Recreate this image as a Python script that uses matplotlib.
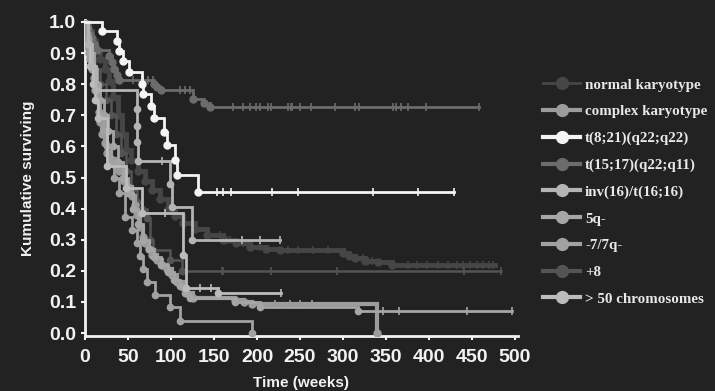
import matplotlib
matplotlib.use('Agg')
import matplotlib.pyplot as plt
from matplotlib.lines import Line2D
from matplotlib.font_manager import FontProperties

# ---------------- data ----------------
labels = ['normal karyotype', 'complex karyotype', 't(8;21)(q22;q22)',
          't(15;17)(q22;q11)', 'inv(16)/t(16;16)', '5q-', '-7/7q-', '+8',
          '> 50 chromosomes']

# normal karyotype
nk_t = [4, 8, 13, 18, 23, 28, 33, 38, 43, 48, 54, 62, 70, 78, 87, 96, 105, 114,
        128, 142, 160, 176, 192, 210, 227, 300, 307, 314, 325, 341, 357]
nk_s = [0.97, 0.94, 0.91, 0.88, 0.85, 0.81, 0.76, 0.70, 0.64, 0.59, 0.555, 0.52,
        0.49, 0.46, 0.43, 0.40, 0.375, 0.354, 0.335, 0.315, 0.30, 0.288, 0.277,
        0.27, 0.267, 0.258, 0.248, 0.24, 0.233, 0.228, 0.218]
nk_c = [157, 165, 169, 184, 203, 236, 248, 265, 283, 323, 329, 334, 376, 386,
        398, 410, 422, 432, 440, 448, 456, 463, 470, 474]
nk_end = 477

# complex karyotype
ck_t = [1, 2, 3, 4, 5, 6, 8, 10, 12, 14, 16, 18, 20, 23, 26, 30, 35, 40, 45, 50,
        55, 58, 61, 64, 67, 70, 74, 78, 84, 90, 95, 101, 107, 114, 118, 125, 174,
        185, 194, 340]
ck_s = [0.98, 0.96, 0.94, 0.92, 0.90, 0.88, 0.85, 0.82, 0.78, 0.75, 0.71, 0.68,
        0.64, 0.61, 0.58, 0.56, 0.54, 0.52, 0.49, 0.47, 0.44, 0.41, 0.38, 0.34,
        0.31, 0.29, 0.27, 0.25, 0.235, 0.22, 0.205, 0.185, 0.165, 0.148, 0.128,
        0.113, 0.106, 0.10, 0.093, 0.0]
ck_c = [221, 238, 250, 264]
ck_end = 340

# t(8;21)
t821_t = [20, 37, 40, 44, 51, 66, 67, 77, 80, 92, 95, 105, 107, 131]
t821_s = [0.972, 0.94, 0.907, 0.875, 0.84, 0.80, 0.77, 0.73, 0.69, 0.645, 0.605,
          0.555, 0.508, 0.453]
t821_c = [153, 161, 170, 218, 248, 335, 387, 429]
t821_end = 429

# t(15;17)
t1517_t = [2, 4, 6, 8, 10, 12, 14, 28, 31, 34, 37, 40, 80, 84, 88, 126, 138, 145]
t1517_s = [0.99, 0.98, 0.96, 0.95, 0.93, 0.92, 0.91, 0.89, 0.87, 0.85, 0.83,
           0.815, 0.80, 0.79, 0.78, 0.752, 0.74, 0.727]
t1517_c = [56, 67, 73, 79, 110, 116, 122, 172, 184, 192, 199, 203, 213, 216, 236,
           239, 241, 250, 263, 291, 314, 319, 358, 362, 368, 376, 397, 458]
t1517_end = 458

# inv(16)/t(16;16)
inv_t = [4, 8, 13, 60, 60.5, 61, 62, 99, 101, 124]
inv_s = [0.93, 0.86, 0.78, 0.72, 0.666, 0.614, 0.553, 0.48, 0.405, 0.30]
inv_c = [90, 183, 204, 227]
inv_end = 227

# 5q-
q5_t = [3, 6, 10, 14, 18, 22, 27, 32, 38, 44, 50, 56, 62, 68, 74, 80, 88, 96,
        104, 110, 116, 122, 174, 203, 317]
q5_s = [0.95, 0.90, 0.85, 0.80, 0.75, 0.70, 0.65, 0.60, 0.55, 0.50, 0.45, 0.40,
        0.35, 0.30, 0.27, 0.245, 0.22, 0.195, 0.17, 0.15, 0.13, 0.113, 0.10,
        0.083, 0.07]
q5_c = [347, 365, 444, 496]
q5_end = 496

# -7/7q-
m7_t = [3, 6, 10, 14, 18, 22, 26, 30, 34, 40, 46, 55, 60, 64, 68, 72, 81, 99,
        110, 194]
m7_s = [0.95, 0.88, 0.80, 0.75, 0.70, 0.65, 0.60, 0.55, 0.50, 0.45, 0.373,
        0.33, 0.29, 0.248, 0.205, 0.164, 0.122, 0.084, 0.039, 0.0]
m7_c = []
m7_end = 194

# +8
p8_t = [4, 8, 12, 18, 24, 30, 36, 42, 48, 54, 60, 66, 72, 76, 79, 99, 113]
p8_s = [0.95, 0.90, 0.85, 0.80, 0.75, 0.70, 0.64, 0.58, 0.52, 0.46, 0.42, 0.40,
        0.37, 0.30, 0.267, 0.235, 0.20]
p8_c = [159, 161, 216, 293, 441, 484]
p8_end = 484

# > 50 chromosomes
h50_t = [3, 6, 9, 12, 15, 26, 48, 66, 114, 118, 155]
h50_s = [0.93, 0.86, 0.80, 0.75, 0.69, 0.537, 0.466, 0.385, 0.25, 0.145, 0.128]
h50_c = [93, 134, 146, 228]
h50_end = 228

x_ticks = [0, 50, 100, 150, 200, 250, 300, 350, 400, 450, 500]
y_ticks = [0.0, 0.1, 0.2, 0.3, 0.4, 0.5, 0.6, 0.7, 0.8, 0.9, 1.0]

# ---------------- styling ----------------
BG = '#222222'
FG = '#f2f2f2'
styles = {
    'normal karyotype':  dict(color='#464646', lw=3.5, ms=5, z=2),
    'complex karyotype': dict(color='#9c9c9c', lw=3.0, ms=5, z=4),
    't(8;21)(q22;q22)':  dict(color='#f4f4f4', lw=2.0, ms=5, z=9),
    't(15;17)(q22;q11)': dict(color='#6c6c6c', lw=2.0, ms=5, z=3),
    'inv(16)/t(16;16)':  dict(color='#b4b4b4', lw=2.0, ms=4.5, z=8),
    '5q-':               dict(color='#a6a6a6', lw=2.0, ms=4.5, z=5),
    '-7/7q-':            dict(color='#a2a2a2', lw=2.0, ms=4.5, z=6),
    '+8':                dict(color='#545454', lw=1.8, ms=4.5, z=2.5),
    '> 50 chromosomes':  dict(color='#bcbcbc', lw=2.0, ms=4.5, z=7),
}
legend_lw = {'normal karyotype': 2.0}

series = [
    ('normal karyotype', nk_t, nk_s, nk_c, nk_end),
    ('complex karyotype', ck_t, ck_s, ck_c, ck_end),
    ('t(8;21)(q22;q22)', t821_t, t821_s, t821_c, t821_end),
    ('t(15;17)(q22;q11)', t1517_t, t1517_s, t1517_c, t1517_end),
    ('inv(16)/t(16;16)', inv_t, inv_s, inv_c, inv_end),
    ('5q-', q5_t, q5_s, q5_c, q5_end),
    ('-7/7q-', m7_t, m7_s, m7_c, m7_end),
    ('+8', p8_t, p8_s, p8_c, p8_end),
    ('> 50 chromosomes', h50_t, h50_s, h50_c, h50_end),
]


def value_at(times, surv, t):
    v = 1.0
    for ti, si in zip(times, surv):
        if ti <= t:
            v = si
    return v


fig = plt.figure(figsize=(7.15, 3.91), dpi=100, facecolor=BG)
ax = fig.add_axes([85 / 715, 55 / 391, 432.6 / 715, 316 / 391])
ax.set_facecolor(BG)

for name, t, s, c, end in series:
    st = styles[name]
    xs = [0] + list(t)
    ys = [1.0] + list(s)
    if end > t[-1]:
        xs.append(end)
        ys.append(s[-1])
    ax.step(xs, ys, where='post', color=st['color'], lw=st['lw'],
            zorder=st['z'], solid_joinstyle='miter')
    ax.plot(t, s, 'o', ms=st['ms'], color=st['color'], mec=st['color'],
            zorder=st['z'])
    if c:
        ax.plot(c, [value_at(t, s, ci) for ci in c], '|', ms=6, mew=1.2,
                color=st['color'], zorder=st['z'])

ax.set_xlim(0, 503)
ax.set_ylim(-0.0096, 1.0064)
ax.set_xticks(x_ticks)
ax.set_yticks(y_ticks)
ax.set_yticklabels([f'{v:.1f}' for v in y_ticks])

tick_font = FontProperties(family='Liberation Sans', weight='bold', size=14)
for lab in ax.get_xticklabels() + ax.get_yticklabels():
    lab.set_fontproperties(tick_font)
    lab.set_color(FG)
ax.tick_params(axis='both', colors=FG, length=3, width=1.5)
ax.tick_params(axis='x', pad=6.0)
ax.tick_params(axis='y', pad=3.4)

for side in ['top', 'right']:
    ax.spines[side].set_visible(False)
for side in ['left', 'bottom']:
    ax.spines[side].set_color(FG)
    ax.spines[side].set_linewidth(2)

lab_font = FontProperties(family='Liberation Sans', weight='bold', size=11)
ax.set_ylabel('Kumulative surviving', fontproperties=lab_font, color=FG)
ax.set_xlabel('Time (weeks)', fontproperties=lab_font, color=FG)
ax.yaxis.set_label_coords(-0.115, 0.5)
ax.xaxis.set_label_coords(0.5, -0.127)

handles = []
for name in labels:
    st = styles[name]
    handles.append(Line2D([], [], color=st['color'],
                          lw=legend_lw.get(name, 3.0), marker='o', ms=8.5,
                          mec=st['color'], mfc=st['color']))
leg_font = FontProperties(family='Liberation Serif', weight='bold', size=10.8)
leg = ax.legend(handles, labels, loc='upper left',
                bbox_to_anchor=(543 / 715, (391 - 78) / 391),
                bbox_transform=fig.transFigure, frameon=False, prop=leg_font,
                labelcolor='#e8e8e8', handlelength=2.47, handletextpad=0.33,
                labelspacing=0.88, borderpad=0, borderaxespad=0)

fig.savefig('out.png', dpi=100, facecolor=BG)
